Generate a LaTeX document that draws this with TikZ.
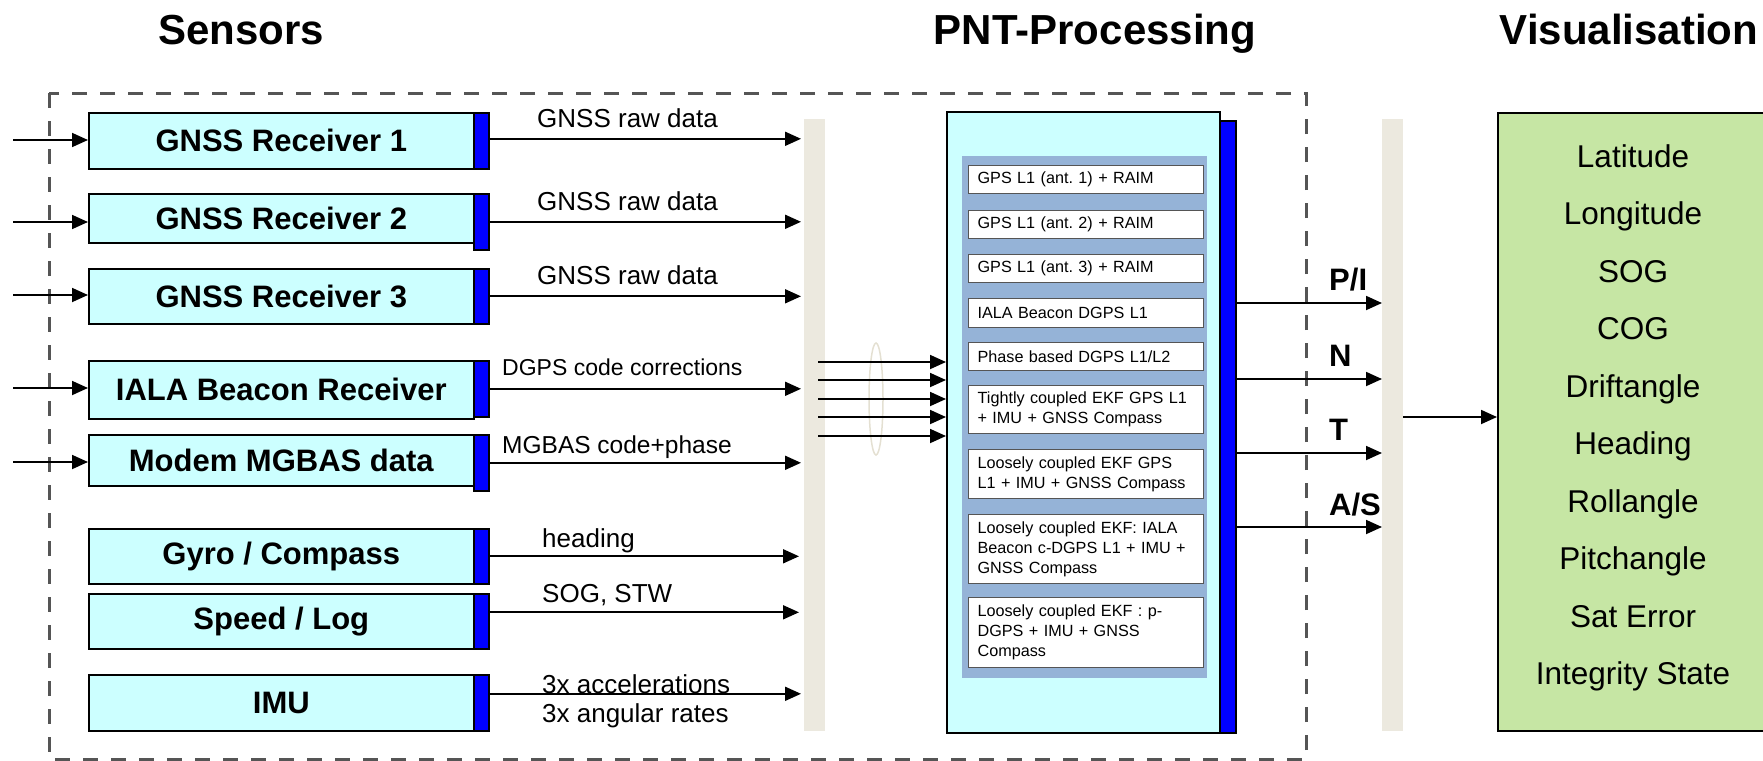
\documentclass[tikz,border=0pt]{standalone}
\usepackage{fontspec}
\setmainfont{Liberation Sans}
\usetikzlibrary{arrows.meta,shapes.geometric}
\definecolor{cyanbox}{HTML}{CCFFFF}
\definecolor{tabblue}{HTML}{0000FF}
\definecolor{busbeige}{HTML}{ECE9DF}
\definecolor{panelblue}{HTML}{95B3D7}
\definecolor{greenbox}{HTML}{C6E6A4}
\definecolor{dashgray}{HTML}{555555}
\definecolor{ellcol}{HTML}{E4E0D2}
\frenchspacing
\tikzset{
  sensor/.style={draw=black, line width=1.6pt, fill=cyanbox, inner sep=0pt, minimum width=385pt, anchor=north west,
    font=\fontsize{31}{36}\selectfont\bfseries},
  tabbox/.style={draw=black, line width=1.6pt, fill=tabblue, inner sep=0pt, minimum width=15pt, anchor=north west},
  busbar/.style={draw=none, fill=busbeige, inner sep=0pt, minimum width=21pt, minimum height=612pt, anchor=north west},
  arr/.style={line width=1.8pt, -{Triangle[length=16pt,width=14pt]}},
  lbl/.style={anchor=base west, inner sep=0pt, font=\fontsize{26}{30}\selectfont},
  algo/.style={draw=dashgray, line width=1.2pt, fill=white, anchor=north west, inner xsep=9pt, inner ysep=0pt,
    text width=217pt, align=left, font=\fontsize{16.2}{20}\selectfont},
  outlbl/.style={anchor=base west, inner sep=0pt, font=\fontsize{31}{36}\selectfont\bfseries},
  vis/.style={anchor=base, inner sep=0pt, font=\fontsize{31.5}{36}\selectfont},
  ttl/.style={anchor=base, inner sep=0pt, font=\fontsize{42}{48}\selectfont\bfseries},
}
\begin{document}
\begin{tikzpicture}[x=1pt,y=-1pt]
\useasboundingbox (0,0) rectangle (1763,760);

% titles
\node[ttl] (tS) at (241,45) {Sensors};
\node[ttl] (tP) at (1095,45) {PNT-Processing};
\node[ttl] (tV) at (1629,45) {Visualisation};

% dashed frame
\draw[dashgray, line width=3pt, dash pattern=on 15pt off 13pt] (49,93) rectangle (1306,759);

% bus bars
\node[busbar] (bus1) at (804,119) {};
\node[busbar] (bus2) at (1382,119) {};

% sensors
\node[sensor, minimum height=56pt] (s1) at (88,112) {GNSS Receiver 1};
\node[tabbox, minimum height=56pt] (t1) at (473,112) {};
\node[sensor, minimum height=49pt] (s2) at (88,193) {GNSS Receiver 2};
\node[tabbox, minimum height=56pt] (t2) at (473,193) {};
\node[sensor, minimum height=55pt] (s3) at (88,268) {GNSS Receiver 3};
\node[tabbox, minimum height=55pt] (t3) at (473,268) {};
\node[sensor, minimum height=58pt] (s4) at (88,360) {IALA Beacon Receiver};
\node[tabbox, minimum height=56pt] (t4) at (473,360) {};
\node[sensor, minimum height=51pt] (s5) at (88,434) {Modem MGBAS data};
\node[tabbox, minimum height=56pt] (t5) at (473,434) {};
\node[sensor, minimum height=55pt] (s6) at (88,528) {Gyro / Compass};
\node[tabbox, minimum height=55pt] (t6) at (473,528) {};
\node[sensor, minimum height=55pt] (s7) at (88,593) {Speed / Log};
\node[tabbox, minimum height=55pt] (t7) at (473,593) {};
\node[sensor, minimum height=56pt] (s8) at (88,674) {IMU};
\node[tabbox, minimum height=56pt] (t8) at (473,674) {};

% input arrows
\coordinate (i1) at (13,140);
\coordinate (i2) at (13,222);
\coordinate (i3) at (13,295);
\coordinate (i4) at (13,388);
\coordinate (i5) at (13,462);
\draw[arr] (i1) -- (i1 -| s1.west);
\draw[arr] (i2) -- (i2 -| s2.west);
\draw[arr] (i3) -- (i3 -| s3.west);
\draw[arr] (i4) -- (i4 -| s4.west);
\draw[arr] (i5) -- (i5 -| s5.west);

% sensor output arrows
\draw[arr, shorten >=3pt] ([yshift=2pt]t1.east) -- ([yshift=2pt]t1.east -| bus1.west);
\draw[arr, shorten >=3pt] (t2.east) -- (t2.east -| bus1.west);
\draw[arr, shorten >=3pt] (t3.east) -- (t3.east -| bus1.west);
\draw[arr, shorten >=3pt] (t4.east) -- (t4.east -| bus1.west);
\draw[arr, shorten >=3pt] (t5.east) -- (t5.east -| bus1.west);
\draw[arr, shorten >=5pt] (t6.east) -- (t6.east -| bus1.west);
\draw[arr, shorten >=5pt] ([yshift=9pt]t7.east) -- ([yshift=9pt]t7.east -| bus1.west);
\draw[arr, shorten >=3pt] ([yshift=9pt]t8.east) -- ([yshift=9pt]t8.east -| bus1.west);

% arrow labels
\node[lbl] (l1) at (537,127) {GNSS raw data};
\node[lbl] (l2) at (537,210) {GNSS raw data};
\node[lbl] (l3) at (537,284) {GNSS raw data};
\node[lbl, font=\fontsize{23}{28}\selectfont] (l4) at (502,375) {DGPS code corrections};
\node[lbl, font=\fontsize{24.5}{28}\selectfont] (l5) at (502,453) {MGBAS code+phase};
\node[lbl] (l6) at (542,547) {heading};
\node[lbl] (l7) at (542,602) {SOG, STW};
\node[lbl] (l8) at (542,693) {3x accelerations};
\node[lbl] (l9) at (542,722) {3x angular rates};

% PNT processing block
\node[draw=black, line width=1.6pt, fill=tabblue, inner sep=0pt, minimum width=16pt, minimum height=612pt, anchor=north west] (pbar) at (1219,120) {};
\node[draw=black, line width=1.6pt, fill=cyanbox, inner sep=0pt, minimum width=273pt, minimum height=621pt, anchor=north west] (pnt) at (946,111) {};
\node[draw=none, fill=panelblue, inner sep=0pt, minimum width=245pt, minimum height=522pt, anchor=north west] (panel) at (962,156) {};

\node[algo, minimum height=28pt] (a1) at (968,165) {GPS L1 (ant. 1) + RAIM};
\node[algo, minimum height=28pt] (a2) at (968,210) {GPS L1 (ant. 2) + RAIM};
\node[algo, minimum height=28pt] (a3) at (968,254) {GPS L1 (ant. 3) + RAIM};
\node[algo, minimum height=29pt] (a4) at (968,298) {IALA Beacon DGPS L1};
\node[algo, minimum height=28pt] (a5) at (968,342) {Phase based DGPS L1/L2};
\node[algo, minimum height=48pt] (a6) at (968,385) {Tightly coupled EKF GPS L1\\+ IMU + GNSS Compass};
\node[algo, minimum height=49pt] (a7) at (968,449) {Loosely coupled EKF GPS\\L1 + IMU + GNSS Compass};
\node[algo, minimum height=69pt] (a8) at (968,514) {Loosely coupled EKF: IALA\\Beacon c-DGPS L1 + IMU +\\GNSS Compass};
\node[algo, minimum height=70pt] (a9) at (968,597) {Loosely coupled EKF : p-\\DGPS + IMU + GNSS\\Compass};

% bundle into PNT
\node[draw=ellcol, line width=1.5pt, ellipse, inner sep=0pt, minimum width=14pt, minimum height=112pt] (grp) at (876,399) {};
\coordinate (m1) at (818,362);
\coordinate (m2) at (818,380);
\coordinate (m3) at (818,399);
\coordinate (m4) at (818,417);
\coordinate (m5) at (818,436);
\draw[arr] (m1) -- (m1 -| pnt.west);
\draw[arr] (m2) -- (m2 -| pnt.west);
\draw[arr] (m3) -- (m3 -| pnt.west);
\draw[arr] (m4) -- (m4 -| pnt.west);
\draw[arr] (m5) -- (m5 -| pnt.west);

% PNT outputs
\coordinate (o1) at (1300,303);
\coordinate (o2) at (1300,379);
\coordinate (o3) at (1300,453);
\coordinate (o4) at (1300,527);
\draw[arr] (pbar.east |- o1) -- (bus2.west |- o1);
\draw[arr] (pbar.east |- o2) -- (bus2.west |- o2);
\draw[arr] (pbar.east |- o3) -- (bus2.west |- o3);
\draw[arr] (pbar.east |- o4) -- (bus2.west |- o4);
\node[outlbl] (pi) at (1329,290) {P/I};
\node[outlbl] (pn) at (1329,366) {N};
\node[outlbl] (pt) at (1329,440) {T};
\node[outlbl] (pa) at (1329,515) {A/S};

% visualisation
\node[draw=black, line width=1.6pt, fill=greenbox, inner sep=0pt, minimum width=280pt, minimum height=618pt, anchor=north west] (vbox) at (1497,112) {};
\coordinate (g1) at (1450,417);
\draw[arr] (bus2.east |- g1) -- (vbox.west |- g1);
\node[vis] (v1) at (1633,167) {Latitude};
\node[vis] (v2) at (1633,224.5) {Longitude};
\node[vis] (v3) at (1633,282) {SOG};
\node[vis] (v4) at (1633,339.5) {COG};
\node[vis] (v5) at (1633,397) {Driftangle};
\node[vis] (v6) at (1633,454.5) {Heading};
\node[vis] (v7) at (1633,512) {Rollangle};
\node[vis] (v8) at (1633,569.5) {Pitchangle};
\node[vis] (v9) at (1633,627) {Sat Error};
\node[vis] (v10) at (1633,684.5) {Integrity State};
\end{tikzpicture}
\end{document}
